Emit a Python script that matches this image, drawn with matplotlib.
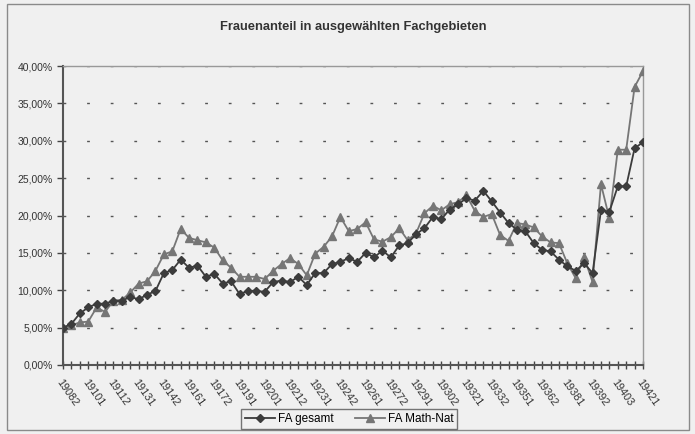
import matplotlib
matplotlib.use("Agg")
import matplotlib.pyplot as plt
from matplotlib.patches import Rectangle
from matplotlib.ticker import FuncFormatter, MultipleLocator

# Semester codes (year + semester number)
semester = [
    "19082", "19091", "19092", "19101", "19102", "19111", "19112", "19121", "19122",
    "19131", "19132", "19141", "19142", "19151", "19152", "19161", "19162", "19171",
    "19172", "19181", "19182", "19191", "19192", "19193", "19201", "19202", "19211",
    "19212", "19221", "19222", "19231", "19232", "19241", "19242", "19251", "19252",
    "19261", "19262", "19271", "19272", "19281", "19282", "19291", "19292", "19301",
    "19302", "19311", "19312", "19321", "19322", "19331", "19332", "19341", "19342",
    "19351", "19352", "19361", "19362", "19371", "19372", "19381", "19382", "19391",
    "19392", "19401", "19402", "19403", "19411", "19412", "19421",
]

# Frauenanteil in %
fa_gesamt = [
    5.0, 5.5, 6.9, 7.7, 8.2, 8.2, 8.6, 8.6, 9.1, 8.8,
    9.4, 9.9, 12.3, 12.7, 14.1, 13.0, 13.3, 11.8, 12.2, 10.9,
    11.2, 9.5, 9.9, 9.9, 9.8, 11.1, 11.3, 11.1, 11.8, 10.7,
    12.3, 12.3, 13.5, 13.8, 14.3, 13.8, 15.0, 14.4, 15.3, 14.4,
    16.0, 16.3, 17.5, 18.3, 19.8, 19.5, 20.8, 21.5, 22.3, 22.0,
    23.3, 21.9, 20.4, 19.0, 18.1, 17.9, 16.3, 15.4, 15.2, 14.1,
    13.2, 12.6, 13.6, 12.3, 20.7, 20.5, 23.9, 23.9, 29.0, 29.8,
]
fa_mathnat = [
    5.0, 5.3, 5.7, 5.8, 7.7, 7.1, 8.6, 8.7, 9.7, 10.9,
    11.2, 12.6, 14.8, 15.2, 18.2, 17.0, 16.7, 16.4, 15.7, 14.0,
    13.0, 11.8, 11.8, 11.8, 11.5, 12.6, 13.5, 14.3, 13.5, 12.0,
    14.9, 15.8, 17.2, 19.8, 17.9, 18.2, 19.1, 16.8, 16.5, 17.1,
    18.3, 16.7, 17.6, 20.3, 21.3, 20.7, 21.5, 21.8, 22.7, 20.6,
    19.8, 20.2, 17.4, 16.6, 19.0, 18.8, 18.4, 17.2, 16.4, 16.3,
    13.6, 11.6, 14.4, 11.1, 24.2, 19.6, 28.8, 28.8, 37.2, 39.3,
]

plt.rcParams["font.family"] = ["Liberation Sans", "DejaVu Sans"]
bg = "#f0f0f0"

fig = plt.figure(figsize=(6.95, 4.34), dpi=100, facecolor=bg)
fig.patches.append(Rectangle((7 / 695, 4 / 434), 682 / 695, 426 / 434,
                             transform=fig.transFigure, fill=False,
                             edgecolor="#8a8a8a", linewidth=1.0))

ax = fig.add_axes([63 / 695, 69 / 434, 580 / 695, 299 / 434])
ax.set_facecolor(bg)

x = list(range(len(semester)))
ax.plot(x, fa_gesamt, color="#3c3c3c", lw=1.3, marker="D", ms=4.3,
        label="FA gesamt", zorder=4)
ax.plot(x, fa_mathnat, color="#767676", lw=1.3, marker="^", ms=5.3,
        label="FA Math-Nat", zorder=3)

ax.set_xlim(0, len(semester) - 1)
ax.set_ylim(0, 40)
ax.yaxis.set_major_locator(MultipleLocator(5))
ax.yaxis.set_major_formatter(FuncFormatter(lambda v, p: f"{v:.2f}%".replace(".", ",")))
ax.grid(axis="y", color="#555555", linestyle=(0, (2, 15)), linewidth=1.0)

ax.set_xticks(x)
ax.set_xticklabels([s if i % 3 == 0 else "" for i, s in enumerate(semester)],
                   rotation=-55, ha="left", va="top", rotation_mode="anchor",
                   fontsize=7.8, color="#333333")
ax.tick_params(axis="x", direction="inout", length=6, width=1.0, color="#444444", pad=6)
ax.tick_params(axis="y", direction="out", length=4, width=1.0, color="#444444",
               labelsize=7.5, labelcolor="#333333")

for side in ["left", "bottom"]:
    ax.spines[side].set_color("#555555")
    ax.spines[side].set_linewidth(1.5)
for side in ["top", "right"]:
    ax.spines[side].set_color("#999999")
    ax.spines[side].set_linewidth(1.0)

fig.text(353 / 695, 1 - 27 / 434, "Frauenanteil in ausgewählten Fachgebieten",
         ha="center", va="center", fontsize=9.3, fontweight="bold", color="#333333")

leg = fig.legend(loc="center", bbox_to_anchor=(349 / 695, 1 - 419 / 434), ncol=2,
                 fontsize=8.5, frameon=True, fancybox=False, handlelength=2.6,
                 columnspacing=1.8, borderpad=0.35, handletextpad=0.2)
leg.get_frame().set_edgecolor("#555555")
leg.get_frame().set_facecolor(bg)
leg.get_frame().set_linewidth(1.0)

fig.savefig("out.png", dpi=100, facecolor=bg)
